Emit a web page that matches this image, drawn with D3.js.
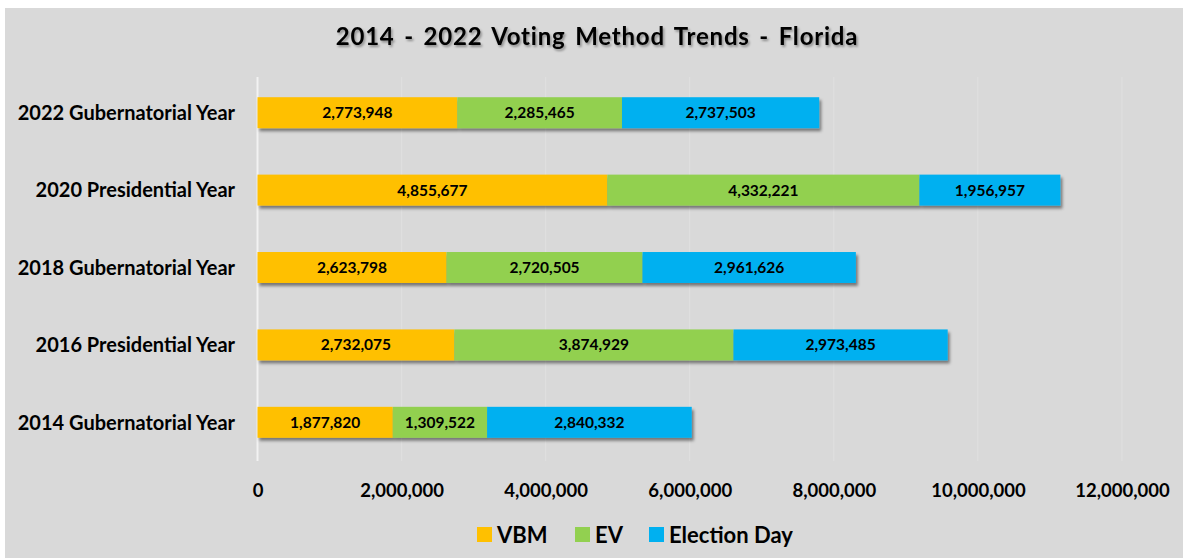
<!DOCTYPE html>
<html>
<head>
<meta charset="utf-8">
<script src="https://cdn.jsdelivr.net/npm/d3@7"></script>
<style>
  body { margin: 0; background: #ffffff; }
  svg { display: block; font-family: Lato, "Open Sans", sans-serif; }
</style>
</head>
<body>
<div id="chart"></div>
<script>
// categories, top to bottom as in the picture
const years = [
  "2022 Gubernatorial Year",
  "2020 Presidential Year",
  "2018 Gubernatorial Year",
  "2016 Presidential Year",
  "2014 Gubernatorial Year"
]

// series values (same order as years)
const vbm = [2773948, 4855677, 2623798, 2732075, 1877820]
const ev = [2285465, 4332221, 2720505, 3874929, 1309522]
const electionDay = [2737503, 1956957, 2961626, 2973485, 2840332]

const seriesNames = ["VBM", "EV", "Election Day"]
const seriesColors = ["#FFC000", "#92D050", "#00B0F0"]

const xTicks = [0, 2000000, 4000000, 6000000, 8000000, 10000000, 12000000]

const width = 1184
const height = 558

// build rows for the stack layout
const rows = years.map((y, i) => ({
  year: y,
  "VBM": vbm[i],
  "EV": ev[i],
  "Election Day": electionDay[i]
}))

const stack = d3.stack().keys(seriesNames)(rows)

const svg = d3.select("#chart")
  .append("svg")
  .attr("width", width)
  .attr("height", height)

// drop shadow for the bars and the title
const defs = svg.append("defs")
defs.append("filter")
  .attr("id", "barShadow")
  .attr("x", "-5%").attr("y", "-30%")
  .attr("width", "110%").attr("height", "180%")
  .append("feDropShadow")
  .attr("dx", 2).attr("dy", 3)
  .attr("stdDeviation", 1.8)
  .attr("flood-color", "#000")
  .attr("flood-opacity", 0.45)

defs.append("filter")
  .attr("id", "titleShadow")
  .append("feDropShadow")
  .attr("dx", 1.5).attr("dy", 2)
  .attr("stdDeviation", 1.2)
  .attr("flood-color", "#000")
  .attr("flood-opacity", 0.35)

// chart background
svg.append("rect")
  .attr("x", 5)
  .attr("y", 8)
  .attr("width", width - 6)
  .attr("height", height - 8)
  .attr("fill", "#D9D9D9")

// scales
const x = d3.scaleLinear()
  .domain([0, 12000000])
  .range([257.5, 1122])

const y = d3.scaleBand()
  .domain(years)
  .range([74, 461])
  .paddingInner(0.6)
  .paddingOuter(0.3)

const color = d3.scaleOrdinal()
  .domain(seriesNames)
  .range(seriesColors)

// vertical gridlines
svg.append("g")
  .selectAll("line")
  .data(xTicks.slice(1))
  .enter().append("line")
  .attr("x1", d => x(d))
  .attr("x2", d => x(d))
  .attr("y1", 77)
  .attr("y2", 461)
  .attr("stroke", "#E0E0E0")
  .attr("stroke-width", 1)

// zero line
svg.append("line")
  .attr("x1", x(0))
  .attr("x2", x(0))
  .attr("y1", 77)
  .attr("y2", 461)
  .attr("stroke", "#F2F2F2")
  .attr("stroke-width", 2)

// title
svg.append("text")
  .attr("x", 597)
  .attr("y", 45)
  .attr("text-anchor", "middle")
  .attr("font-size", 24)
  .attr("font-weight", "bold")
  .attr("letter-spacing", 0.8)
  .attr("word-spacing", 3)
  .attr("fill", "#000")
  .attr("filter", "url(#titleShadow)")
  .text("2014 - 2022 Voting Method Trends  - Florida")

// bars
const groups = svg.append("g")
  .attr("filter", "url(#barShadow)")
  .selectAll("g")
  .data(stack)
  .enter().append("g")
  .attr("fill", d => color(d.key))

groups.selectAll("rect")
  .data(d => d)
  .enter().append("rect")
  .attr("x", d => x(d[0]))
  .attr("y", d => y(d.data.year))
  .attr("width", d => x(d[1]) - x(d[0]))
  .attr("height", y.bandwidth())

// value labels in the middle of each segment
const labels = svg.append("g")
stack.forEach(s => {
  labels.selectAll(null)
    .data(s)
    .enter().append("text")
    .attr("x", d => (x(d[0]) + x(d[1])) / 2)
    .attr("y", d => y(d.data.year) + y.bandwidth() / 2)
    .attr("dy", "0.36em")
    .attr("text-anchor", "middle")
    .attr("font-size", 15.5)
    .attr("font-weight", "bold")
    .attr("fill", "#000")
    .text(d => d3.format(",")(d[1] - d[0]))
})

// category axis
const yAxis = svg.append("g")
  .attr("transform", "translate(235,0)")
  .call(d3.axisLeft(y).tickSize(0).tickPadding(0))
yAxis.select(".domain").remove()
yAxis.selectAll("text")
  .attr("font-size", 20)
  .attr("font-weight", "bold")
  .attr("font-family", "Lato, sans-serif")
  .attr("fill", "#000")
  .attr("dy", "0.36em")

// value axis
const xAxis = svg.append("g")
  .attr("transform", "translate(0,490)")
  .call(d3.axisBottom(x).tickValues(xTicks).tickFormat(d3.format(",")).tickSize(0).tickPadding(0))
xAxis.select(".domain").remove()
xAxis.selectAll("text")
  .attr("font-size", 18.5)
  .attr("font-weight", "bold")
  .attr("font-family", "Lato, sans-serif")
  .attr("fill", "#000")
  .attr("dy", "0.36em")

// legend
const legendX = [477, 575, 649]
const legend = svg.append("g")
  .selectAll("g")
  .data(seriesNames)
  .enter().append("g")
  .attr("transform", (d, i) => "translate(" + legendX[i] + ",527)")

legend.append("rect")
  .attr("width", 15)
  .attr("height", 15)
  .attr("fill", d => color(d))

legend.append("text")
  .attr("x", 20)
  .attr("y", 16)
  .attr("font-size", 22)
  .attr("font-weight", "bold")
  .attr("fill", "#000")
  .text(d => d)
</script>
</body>
</html>
